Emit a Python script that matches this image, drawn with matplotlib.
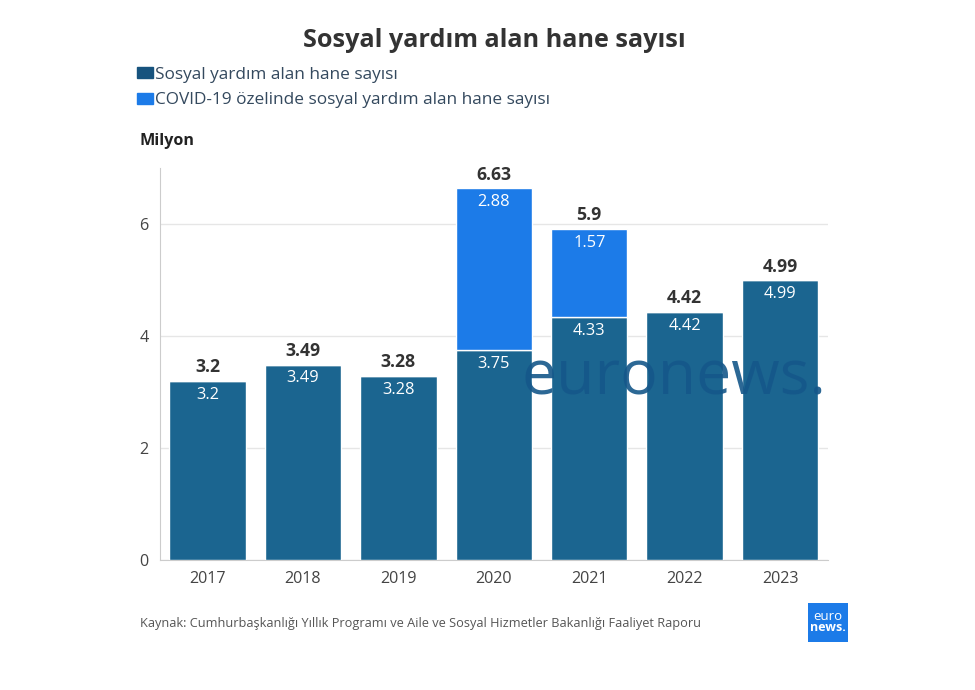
import matplotlib.pyplot as plt
import matplotlib.patches as mpatches

plt.rcParams['font.family'] = ['Open Sans', 'DejaVu Sans']

years = ['2017', '2018', '2019', '2020', '2021', '2022', '2023']
regular = [3.2, 3.49, 3.28, 3.75, 4.33, 4.42, 4.99]
covid = [0, 0, 0, 2.88, 1.57, 0, 0]
totals = ['3.2', '3.49', '3.28', '6.63', '5.9', '4.42', '4.99']

dark = '#1b6590'
bright = '#1c7be8'

fig = plt.figure(figsize=(9.75, 6.9), dpi=100)
ax = fig.add_axes([0.164, 0.188, 0.685, 0.569])

x = range(len(years))
ax.bar(x, regular, width=0.8, color=dark, edgecolor='white', linewidth=1, zorder=3)
ax.bar(x, covid, width=0.8, bottom=regular, color=bright, edgecolor='white', linewidth=1, zorder=3)

for i in x:
    top = regular[i] + covid[i]
    ax.annotate(totals[i], (i, top), xytext=(0, 10), textcoords='offset points',
                ha='center', va='center', fontsize=12.7, fontweight='bold', color='#333333', zorder=5)
    ax.annotate(f'{regular[i]:g}', (i, regular[i]), xytext=(0, -10), textcoords='offset points',
                ha='center', va='center', fontsize=11.8, color='white', zorder=5)
    if covid[i] > 0:
        ax.annotate(f'{covid[i]:g}', (i, top), xytext=(0, -10), textcoords='offset points',
                    ha='center', va='center', fontsize=11.8, color='white', zorder=5)

ax.set_xlim(-0.5, 6.5)
ax.set_ylim(0, 7)
ax.set_yticks([0, 2, 4, 6])
ax.set_xticks(list(x))
ax.set_xticklabels(years)
ax.tick_params(axis='both', length=0, labelsize=11.6, colors='#444444')
ax.tick_params(axis='x', pad=8)
ax.tick_params(axis='y', pad=8)
ax.grid(axis='y', color='#e6e6e6', linewidth=1, zorder=0)
for s in ['top', 'right']:
    ax.spines[s].set_visible(False)
ax.spines['left'].set_color('#cccccc')
ax.spines['bottom'].set_color('#cccccc')

# watermark
ax.text(3.29, 2.96, 'euronews.', fontsize=45, color='#15578a',
        alpha=0.9, ha='left', va='baseline', zorder=4)

fig.text(0.507, 0.942, 'Sosyal yardım alan hane sayısı', ha='center', va='center',
         fontsize=18.2, fontweight='bold', color='#333333')

handles = [mpatches.Patch(color='#17537e', label='Sosyal yardım alan hane sayısı'),
           mpatches.Patch(color=bright, label='COVID-19 özelinde sosyal yardım alan hane sayısı')]
leg = fig.legend(handles=handles, loc='upper left', bbox_to_anchor=(0.140, 0.903), frameon=False,
                 fontsize=12.4, handlelength=0.95, handleheight=0.6, handletextpad=0.15,
                 labelspacing=0.55, borderaxespad=0, borderpad=0)
for t in leg.get_texts():
    t.set_color('#34495e')

fig.text(0.1435, 0.795, 'Milyon', ha='left', va='center', fontsize=11.6, fontweight='bold', color='#222222')

fig.text(0.1435, 0.096, 'Kaynak: Cumhurbaşkanlığı Yıllık Programı ve Aile ve Sosyal Hizmetler Bakanlığı Faaliyet Raporu',
         ha='left', va='center', fontsize=9.2, color='#555555')

# logo
lax = fig.add_axes([0.829, 0.07, 0.041, 0.056])
lax.set_facecolor(bright)
lax.set_xticks([])
lax.set_yticks([])
for s in lax.spines.values():
    s.set_visible(False)
lax.text(0.5, 0.66, 'euro', ha='center', va='center', color='white', fontsize=9.5, transform=lax.transAxes)
lax.text(0.5, 0.36, 'news.', ha='center', va='center', color='white', fontsize=9,
         fontweight='bold', transform=lax.transAxes)

fig.savefig('out.png', dpi=100)
